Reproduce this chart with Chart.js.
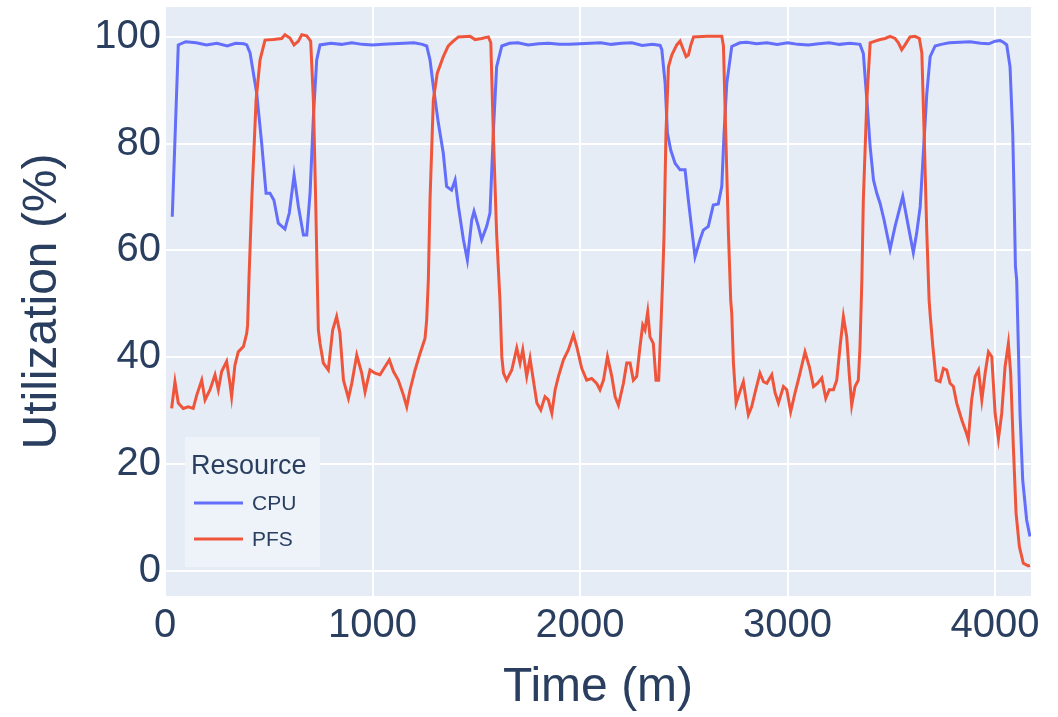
<!DOCTYPE html>
<html>
<head>
<meta charset="utf-8">
<script src="https://cdn.jsdelivr.net/npm/chart.js@4.4.0/dist/chart.umd.min.js"></script>
<style>
  body { margin: 0; background: #fff; }
</style>
</head>
<body>
<canvas id="utilChart" width="1058" height="717"></canvas>
<script>
// utilization samples (minutes, percent)
var cpuTime = [35, 64, 100, 150, 200, 250, 300, 340, 380, 394, 410, 442, 466, 487, 506, 525, 546, 578, 599, 622,
  643, 667, 683, 699, 715, 731, 747, 800, 850, 900, 950, 1000, 1050, 1100, 1150, 1200, 1240, 1261, 1277, 1293,
  1317, 1341, 1357, 1381, 1398, 1414, 1438, 1457, 1478, 1489, 1510, 1526, 1550, 1566, 1582, 1598, 1623, 1660, 1700, 1750,
  1800, 1850, 1900, 1950, 2000, 2050, 2100, 2150, 2200, 2250, 2300, 2350, 2386, 2394, 2410, 2421, 2437, 2458, 2482, 2506,
  2522, 2554, 2578, 2594, 2618, 2642, 2666, 2683, 2694, 2707, 2731, 2770, 2803, 2850, 2900, 2950, 3000, 3050, 3100, 3150,
  3200, 3250, 3300, 3349, 3365, 3382, 3398, 3414, 3430, 3446, 3465, 3494, 3518, 3555, 3582, 3606, 3622, 3639, 3655, 3671,
  3687, 3711, 3740, 3780, 3830, 3880, 3930, 3970, 4000, 4024, 4040, 4056, 4072, 4085, 4092, 4098, 4104, 4112, 4120, 4133,
  4152, 4168];
var cpuUtil = [66.3, 98.5, 99.1, 98.9, 98.5, 98.8, 98.3, 98.8, 98.7, 98.5, 97, 89.4, 80, 70.7, 70.7, 69.4, 65.1, 64, 67, 74.1,
  68.2, 62.9, 62.9, 70.7, 85, 95.7, 98.5, 98.8, 98.6, 98.9, 98.6, 98.5, 98.6, 98.7, 98.8, 98.9, 98.6, 98.3, 95.7, 90.7,
  83.9, 78.2, 72, 71.3, 73.2, 68.2, 62, 58.2, 65.7, 67.3, 64.5, 62, 64.5, 67, 82, 94.4, 98.3, 98.8, 98.9, 98.5,
  98.7, 98.8, 98.6, 98.6, 98.7, 98.8, 98.9, 98.6, 98.8, 98.9, 98.4, 98.6, 98.4, 97.6, 91.3, 82, 78.8, 76.3, 75.1, 75.1,
  69.4, 58.8, 62, 63.8, 64.5, 68.5, 68.7, 72, 82, 91.3, 98.2, 98.9, 99, 98.7, 98.9, 98.6, 98.9, 98.6, 98.5, 98.7,
  98.9, 98.6, 98.8, 98.6, 96.9, 88.2, 79.4, 73.2, 70.7, 68.8, 65.7, 60.2, 64.5, 70.1, 64.5, 59.6, 63.2, 68.2, 78.8, 89.4,
  96.3, 98.3, 98.6, 98.9, 99, 99.1, 98.8, 98.7, 99.2, 99.3, 99, 98.5, 94.4, 82, 69.4, 57, 54.5, 42, 29.5, 17,
  9.5, 6.4];

var pfsTime = [32, 48, 64, 88, 112, 136, 153, 177, 193, 217, 241, 257, 273, 297, 313, 321, 337, 353, 378, 394,
  398, 405, 418, 439, 458, 482, 522, 562, 578, 602, 622, 643, 659, 683, 702, 715, 726, 735, 739, 747,
  763, 787, 808, 827, 843, 860, 884, 900, 924, 948, 964, 988, 1012, 1036, 1060, 1081, 1101, 1124, 1149, 1165,
  1181, 1205, 1229, 1253, 1261, 1269, 1277, 1293, 1312, 1341, 1365, 1389, 1414, 1470, 1494, 1526, 1558, 1570, 1582, 1598,
  1614, 1623, 1631, 1646, 1671, 1695, 1711, 1724, 1743, 1759, 1775, 1792, 1811, 1831, 1847, 1864, 1880, 1896, 1920, 1944,
  1968, 1984, 2008, 2032, 2056, 2080, 2096, 2113, 2132, 2153, 2169, 2185, 2209, 2225, 2241, 2257, 2273, 2289, 2302, 2313,
  2326, 2337, 2353, 2366, 2379, 2389, 2398, 2405, 2414, 2426, 2442, 2466, 2482, 2498, 2511, 2522, 2534, 2547, 2611, 2683,
  2691, 2702, 2715, 2726, 2731, 2739, 2752, 2768, 2787, 2800, 2811, 2827, 2843, 2867, 2884, 2900, 2924, 2940, 2956, 2980,
  2996, 3015, 3036, 3060, 3084, 3105, 3125, 3144, 3165, 3184, 3201, 3221, 3237, 3253, 3269, 3285, 3298, 3309, 3325, 3341,
  3349, 3358, 3365, 3382, 3398, 3422, 3446, 3470, 3494, 3518, 3534, 3550, 3566, 3590, 3614, 3635, 3647, 3658, 3671, 3682,
  3687, 3700, 3716, 3735, 3751, 3767, 3783, 3799, 3815, 3840, 3860, 3871, 3887, 3904, 3920, 3936, 3952, 3968, 3984, 4000,
  4016, 4032, 4048, 4064, 4075, 4088, 4101, 4117, 4136, 4160, 4168];
var pfsUtil = [30.4, 35.4, 31.4, 30.4, 30.7, 30.4, 32.9, 35.7, 32, 33.9, 36.7, 33.9, 37.3, 39.2, 35.1, 32.6, 38.5, 41, 42, 44.5,
  46, 55, 69.4, 88.2, 95.7, 99.4, 99.5, 99.7, 100.4, 99.8, 98.5, 99.2, 100.4, 100.2, 99.2, 88.2, 69.4, 52, 45.1, 42.6,
  38.9, 37.6, 45.1, 47.6, 44.5, 35.7, 32.3, 35.1, 40.4, 37, 33.5, 37.6, 37, 36.7, 38.2, 39.5, 37.3, 35.7, 32.9, 30.7,
  33.9, 37.6, 40.7, 43.5, 47, 54.5, 69.4, 88.2, 93.2, 96.3, 98.3, 99.2, 100, 100.1, 99.5, 99.7, 100, 98.9, 82, 63.2,
  50.7, 40.1, 37, 35.7, 37.6, 41.7, 38.9, 41.4, 36.4, 39.8, 35.7, 31.4, 30.1, 32.6, 32, 29.5, 33.9, 36.4, 39.5, 41.4,
  44.2, 42, 37.9, 35.7, 36, 35.1, 33.9, 35.7, 40.1, 36.4, 32.6, 31, 35.1, 38.9, 38.9, 35.7, 36.4, 42, 46, 45.1,
  48.5, 43.8, 42.6, 35.7, 35.7, 45.1, 54.5, 63.2, 82, 94.4, 96.6, 98.5, 99.2, 97.6, 96.3, 96.6, 98.5, 100, 100.1, 100.1,
  98.3, 82, 63.2, 50.7, 48.2, 38.9, 31.4, 33.3, 35.4, 32, 29.2, 30.7, 33.3, 37, 35.4, 35.1, 36.7, 33.3, 31.4, 34.5,
  33.9, 29.8, 33.3, 37, 41, 38.2, 34.5, 35.1, 36.1, 32.3, 33.9, 33.9, 35.7, 42, 47.6, 43.8, 36.4, 31, 34.5, 35.7,
  42, 54.5, 69.4, 88.2, 98.9, 99.2, 99.5, 99.7, 100.1, 99.7, 98.9, 97.6, 98.5, 100, 100.1, 99.7, 97, 82, 63.2, 50.7,
  48, 42, 35.7, 35.4, 37.9, 37.6, 35.1, 34.5, 31.4, 28.2, 26, 24.6, 32, 36.4, 37.6, 32, 37, 41, 40.1, 29.5,
  24.7, 29.5, 38.2, 42.6, 37, 23.2, 10.8, 4.5, 1.4, 0.9, 1];

var seriesNames = ['CPU', 'PFS'];
var seriesColors = ['#636efa', '#ef553b'];
var xTicks = [0, 1000, 2000, 3000, 4000];
var yTicks = [0, 20, 40, 60, 80, 100];
var legendTitle = 'Resource';

var fontFamily = '"Liberation Sans", Arial, sans-serif';
var textColor = '#2a3f5f';

function toPoints(xs, ys) {
  var pts = [];
  for (var i = 0; i < xs.length; i++) pts.push({x: xs[i], y: ys[i]});
  return pts;
}

// light blue panel behind the lines
var plotBackground = {
  id: 'plotBackground',
  beforeDraw: function(chart) {
    var a = chart.chartArea, ctx = chart.ctx;
    ctx.save();
    ctx.fillStyle = '#e5ecf6';
    ctx.fillRect(a.left, a.top, a.right - a.left, a.bottom - a.top);
    ctx.restore();
  }
};

// boxed legend sitting in the lower left corner of the panel
var cornerLegend = {
  id: 'cornerLegend',
  afterDatasetsDraw: function(chart) {
    var a = chart.chartArea, ctx = chart.ctx;
    var x0 = a.left + 20, y0 = a.bottom - 159;
    ctx.save();
    ctx.fillStyle = '#eef2f9';
    ctx.fillRect(x0, y0, 135, 130);
    ctx.fillStyle = textColor;
    ctx.textBaseline = 'middle';
    ctx.textAlign = 'left';
    ctx.font = '27px ' + fontFamily;
    ctx.fillText(legendTitle, x0 + 6, y0 + 30);
    ctx.font = '21px ' + fontFamily;
    chart.data.datasets.forEach(function(ds, i) {
      var y = y0 + 66 + i * 36;
      ctx.strokeStyle = ds.borderColor;
      ctx.lineWidth = 3;
      ctx.beginPath();
      ctx.moveTo(x0 + 9, y);
      ctx.lineTo(x0 + 58, y);
      ctx.stroke();
      ctx.fillStyle = textColor;
      ctx.fillText(ds.label, x0 + 67, y + 1);
    });
    ctx.restore();
  }
};

function plainTick(v) { return String(v); }

var ctx = document.getElementById('utilChart').getContext('2d');
var chart = new Chart(ctx, {
  type: 'line',
  data: {
    datasets: [
      {
        label: seriesNames[0],
        data: toPoints(cpuTime, cpuUtil),
        borderColor: seriesColors[0],
        borderWidth: 3,
        pointRadius: 0,
        tension: 0,
        order: 1
      },
      {
        label: seriesNames[1],
        data: toPoints(pfsTime, pfsUtil),
        borderColor: seriesColors[1],
        borderWidth: 3,
        pointRadius: 0,
        tension: 0,
        order: 0
      }
    ]
  },
  options: {
    responsive: false,
    animation: false,
    layout: { padding: { left: 0, right: 27, top: 7, bottom: 0 } },
    plugins: {
      legend: { display: false },
      tooltip: { enabled: false }
    },
    scales: {
      x: {
        type: 'linear',
        min: 0,
        max: 4173,
        afterBuildTicks: function(scale) {
          scale.ticks = xTicks.map(function(v) { return {value: v}; });
        },
        afterFit: function(scale) {
          scale.height = 121;
          scale.paddingLeft = 0;
          scale.paddingRight = 0;
        },
        grid: { color: '#ffffff', lineWidth: 2, drawTicks: false },
        border: { display: false },
        ticks: {
          padding: 6,
          maxRotation: 0,
          color: textColor,
          font: { family: fontFamily, size: 40 },
          callback: plainTick
        },
        title: {
          display: true,
          text: 'Time (m)',
          color: textColor,
          font: { family: fontFamily, size: 48 },
          padding: { top: 0, bottom: 0 }
        }
      },
      y: {
        type: 'linear',
        min: -4.74,
        max: 105.6,
        afterBuildTicks: function(scale) {
          scale.ticks = yTicks.map(function(v) { return {value: v}; });
        },
        afterFit: function(scale) {
          scale.width = 165;
          scale.paddingTop = 0;
          scale.paddingBottom = 0;
        },
        grid: { color: '#ffffff', lineWidth: 2, drawTicks: false },
        border: { display: false },
        ticks: {
          padding: 4,
          color: textColor,
          font: { family: fontFamily, size: 40 },
          callback: plainTick
        },
        title: {
          display: true,
          text: 'Utilization (%)',
          color: textColor,
          font: { family: fontFamily, size: 48 },
          padding: { top: 14, bottom: 0 }
        }
      }
    }
  },
  plugins: [plotBackground, cornerLegend]
});
</script>
</body>
</html>
